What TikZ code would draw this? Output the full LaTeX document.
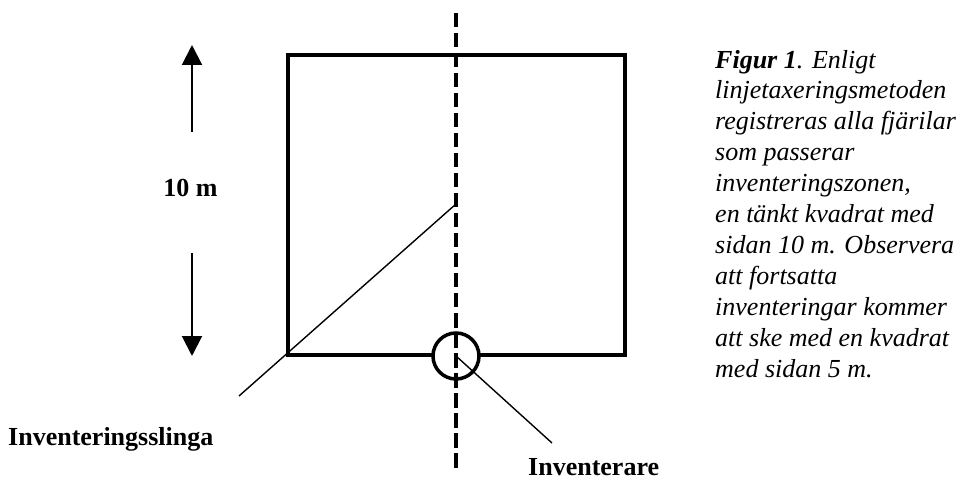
\documentclass[tikz,border=0pt]{standalone}
\usepackage{fontspec}
\setmainfont{Liberation Serif}
\usetikzlibrary{arrows.meta}

\begin{document}
\begin{tikzpicture}[x=1pt, y=-1pt, >={Triangle[length=20pt,width=20pt]},
    frame/.style={line width=3.8pt},
    thinline/.style={line width=1.4pt},
    lbl/.style={font=\fontsize{26}{31}\selectfont\bfseries, inner sep=0pt},
    caption/.style={font=\fontsize{26}{30.9}\selectfont\itshape, align=left, inner sep=0pt}]
    \useasboundingbox (0,0) rectangle (967,481);
    \coordinate (sw) at (288,355);
    \coordinate (ne) at (625,55);
    \draw[frame] (sw) rectangle (ne);
    \node[circle, draw, fill=white, line width=3.5pt, minimum size=46pt, inner sep=0pt] (obs) at (456,356) {};
    \coordinate (top) at (456,13);
    \coordinate (bottom) at (456,468);
    \draw[line width=4.5pt, dash pattern=on 14.5pt off 5.5pt] (top) -- (bottom);
    \coordinate (mid) at (456,204);
    \coordinate (loopend) at (239,396);
    \draw[thinline] (mid) -- (loopend);
    \coordinate (obsend) at (552,443);
    \draw[thinline] (obs.center) -- (obsend);
    \node[lbl, anchor=base] (dim) at (190.5,197) {10 m};
    \coordinate (uptail) at (192,132);
    \coordinate (uptip) at (192,45);
    \coordinate (downtail) at (192,253);
    \coordinate (downtip) at (192,356);
    \draw[->, line width=2pt] (uptail) -- (uptip);
    \draw[->, line width=2pt] (downtail) -- (downtip);
    \node[lbl, anchor=base west] (slinga) at (8,445) {Inventeringsslinga};
    \node[lbl, anchor=base west] (observer) at (528,475) {Inventerare};
    % the base anchor sits on the last line here
    \node[caption, anchor=base west] (cap) at (715,377) {\textbf{Figur 1}. Enligt\\
        linjetaxeringsmetoden\\
        registreras alla fjärilar\\
        som passerar\\
        inventeringszonen,\\
        en tänkt kvadrat med\\
        sidan 10 m. Observera\\
        att fortsatta\\
        inventeringar kommer\\
        att ske med en kvadrat\\
        med sidan 5 m.};
\end{tikzpicture}
\end{document}
